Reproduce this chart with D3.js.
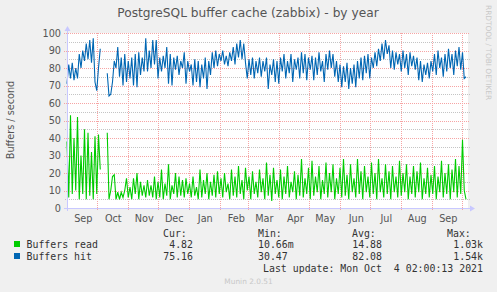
<!DOCTYPE html>
<html>
<head>
<meta charset="utf-8">
<script src="https://cdn.jsdelivr.net/npm/d3@7"></script>
<style>
  html, body { margin: 0; padding: 0; background: #f0f0f0; }
  svg { display: block; }
  text { font-family: "DejaVu Sans", sans-serif; }
  .mono { font-family: "DejaVu Sans Mono", monospace; }
</style>
</head>
<body>
<svg id="chart" width="497" height="292"></svg>
<script>
// series are sampled every 1.75 days starting at startDate (null = no data)
var startDate = Date.UTC(2020, 7, 31, 17);
var stepDays = 1.75;

var buffersRead = [
  38, 6, 53, 8, 40, 10, 52, 5, 30, 8, 45, 5, 43, 7, 32, 5, 41, 8, 42, 22,
  null, null, null, 43, 5, 10, 18, 19, 5, 9, 5, 9, 6, 10, 17, 6,
  12, 5, 17, 8, 20, 5, 15, 7, 13, 6, 16, 7, 13, 6, 18, 5, 15,
  6, 22, 5, 14, 7, 25, 5, 13, 8, 20, 6, 18, 7, 16, 6, 17, 8,
  14, 6, 18, 7, 12, 5, 22, 6, 16, 8, 20, 5, 15, 7, 19, 6, 21, 8,
  17, 6, 20, 9, 14, 5, 22, 7, 18, 6, 24, 8, 16, 5, 23, 10,
  18, 5, 21, 8, 15, 6, 22, 9, 17, 5, 26, 7, 19, 4, 23, 8, 16, 6,
  22, 5, 18, 8, 24, 6, 15, 9, 21, 5, 19, 7, 28, 6, 17, 8, 23,
  5, 27, 7, 18, 9, 24, 5, 16, 8, 26, 6, 20, 9, 25, 5, 17, 8, 23,
  6, 28, 7, 19, 5, 25, 9, 17, 6, 28, 8, 21, 5, 24, 9, 18, 6,
  26, 8, 20, 5, 28, 9, 17, 6, 25, 8, 21, 5, 24, 9, 18, 6, 27,
  7, 20, 9, 25, 5, 18, 8, 24, 6, 21, 9, 26, 5, 17, 8, 23, 6, 19,
  8, 24, 5, 18, 9, 27, 6, 20, 8, 25, 5, 22, 9, 28, 6, 24, 8, 39, 10, 5
];

var buffersHit = [
  71, 82, 74, 83, 73, 80, 74, 88, 80, 90, 84, 94, 85, 96, 83, 97, 72, 67, 80, 91,
  null, null, null, 77, 64, 65, 72, 84, 80, 92, 75, 86, 70, 88, 72, 84,
  74, 86, 70, 88, 69, 89, 76, 86, 78, 97, 78, 90, 80, 96, 82, 96, 74,
  86, 78, 87, 80, 92, 71, 88, 70, 86, 79, 87, 76, 84, 80, 89, 71, 84,
  78, 82, 70, 85, 72, 84, 69, 82, 74, 86, 68, 84, 76, 89, 80, 90, 81, 88,
  84, 90, 82, 87, 81, 89, 84, 92, 82, 94, 86, 96, 85, 94, 83, 74,
  85, 76, 86, 74, 84, 77, 86, 75, 84, 78, 86, 68, 82, 76, 85, 72, 84, 71,
  86, 78, 88, 74, 84, 77, 88, 72, 85, 79, 86, 74, 89, 77, 88, 73, 86,
  79, 87, 73, 86, 76, 89, 78, 84, 72, 88, 79, 90, 80, 88, 75, 84, 72, 82,
  69, 81, 72, 83, 68, 80, 71, 82, 69, 84, 74, 86, 73, 87, 77, 88, 74,
  86, 80, 89, 81, 91, 84, 94, 85, 96, 88, 93, 80, 90, 79, 89, 82, 88,
  78, 90, 80, 88, 76, 89, 81, 87, 79, 86, 73, 84, 72, 82, 76, 83, 74, 84,
  78, 88, 76, 90, 80, 86, 75, 88, 78, 91, 80, 88, 76, 90, 81, 92, 79, 89, 74, 75
];

var yTicks = [0, 10, 20, 30, 40, 50, 60, 70, 80, 90, 100];
var yMinor = [5, 15, 25, 35, 45, 55, 65, 75, 85, 95];

var legendRows = [
  {name: "Buffers read", color: "#00cc00", cur: "4.82", min: "10.66m", avg: "14.88", max: "1.03k"},
  {name: "Buffers hit", color: "#0066b3", cur: "75.16", min: "30.47", avg: "82.08", max: "1.54k"}
];

var svg = d3.select("#chart");
var plotL = 67, plotR = 468, plotT = 33, plotB = 208;

var x = d3.scaleUtc()
    .domain([new Date(startDate), new Date(startDate + 401 * 864e5)])
    .range([plotL, plotR]);
var y = d3.scaleLinear().domain([0, 100]).range([plotB, plotT]);

function dateAt(i) { return new Date(startDate + i * stepDays * 864e5); }

// plot background
svg.append("rect")
    .attr("x", plotL).attr("y", plotT)
    .attr("width", plotR - plotL).attr("height", plotB - plotT)
    .attr("fill", "#fff");

// minor horizontal grid
svg.append("g").selectAll("line")
    .data(yMinor).enter()
    .append("line")
    .attr("x1", plotL - 2).attr("x2", plotR + 2)
    .attr("y1", function (d) { return Math.round(y(d)) + 0.5; })
    .attr("y2", function (d) { return Math.round(y(d)) + 0.5; })
    .attr("stroke", "#c4c4c4")
    .attr("stroke-dasharray", "1,1");

// major horizontal grid
svg.append("g").selectAll("line")
    .data(yTicks.filter(function (d) { return d > 0; })).enter()
    .append("line")
    .attr("x1", plotL - 3).attr("x2", plotR + 2)
    .attr("y1", function (d) { return Math.round(y(d)) + 0.5; })
    .attr("y2", function (d) { return Math.round(y(d)) + 0.5; })
    .attr("stroke", "#f6a4a4")
    .attr("stroke-dasharray", "1,1");

// month grid
var months = d3.utcMonth.range(new Date(Date.UTC(2020, 9, 1)), x.domain()[1]);
svg.append("g").selectAll("line")
    .data(months).enter()
    .append("line")
    .attr("x1", function (d) { return Math.round(x(d)) + 0.5; })
    .attr("x2", function (d) { return Math.round(x(d)) + 0.5; })
    .attr("y1", plotT).attr("y2", plotB + 3)
    .attr("stroke", "#f6a4a4")
    .attr("stroke-dasharray", "1,1");

// y tick labels
svg.append("g").selectAll("text")
    .data(yTicks).enter()
    .append("text")
    .attr("x", 61)
    .attr("y", function (d) { return y(d) + 3.5; })
    .attr("text-anchor", "end")
    .attr("font-size", "9.7px")
    .attr("fill", "#555")
    .text(function (d) { return d; });

// x labels, centred in the month
var labelMonths = d3.utcMonth.range(new Date(Date.UTC(2020, 8, 1)), new Date(Date.UTC(2021, 9, 1)));
svg.append("g").selectAll("text")
    .data(labelMonths).enter()
    .append("text")
    .attr("x", function (d) { return x(d3.utcDay.offset(d, 16)); })
    .attr("y", 221.5)
    .attr("text-anchor", "middle")
    .attr("font-size", "9.7px")
    .attr("fill", "#555")
    .text(d3.utcFormat("%b"));

// data lines
function lineFor(vals) {
    return d3.line()
        .defined(function (d) { return d != null; })
        .x(function (d, i) { return x(dateAt(i)); })
        .y(function (d) { return y(d); })(vals);
}

svg.append("path")
    .attr("d", lineFor(buffersRead))
    .attr("fill", "none")
    .attr("stroke", "#00cc00")
    .attr("stroke-width", 1.1);

svg.append("path")
    .attr("d", lineFor(buffersHit))
    .attr("fill", "none")
    .attr("stroke", "#0066b3")
    .attr("stroke-width", 1.1);

// axes
svg.append("line")
    .attr("x1", plotL + 0.5).attr("x2", plotL + 0.5)
    .attr("y1", plotB + 3).attr("y2", plotT - 3)
    .attr("stroke", "#c8c8ff");
svg.append("line")
    .attr("x1", plotL - 3).attr("x2", plotR + 3)
    .attr("y1", plotB + 0.5).attr("y2", plotB + 0.5)
    .attr("stroke", "#c8c8ff");
svg.append("path")
    .attr("d", "M" + (plotL - 2.5) + "," + (plotT - 2) + "L" + (plotL + 3.5) + "," + (plotT - 2) + "L" + (plotL + 0.5) + "," + (plotT - 7) + "Z")
    .attr("fill", "#c8c8ff");
svg.append("path")
    .attr("d", "M" + (plotR + 2) + "," + (plotB - 2.5) + "L" + (plotR + 2) + "," + (plotB + 3.5) + "L" + (plotR + 7) + "," + (plotB + 0.5) + "Z")
    .attr("fill", "#c8c8ff");

// title and side texts
svg.append("text")
    .attr("x", 248).attr("y", 17)
    .attr("text-anchor", "middle")
    .attr("font-size", "12.2px")
    .attr("fill", "#555")
    .text("PostgreSQL buffer cache (zabbix) - by year");

svg.append("text")
    .attr("transform", "translate(14,120) rotate(-90)")
    .attr("text-anchor", "middle")
    .attr("font-size", "9.7px")
    .attr("fill", "#555")
    .text("Buffers / second");

svg.append("text")
    .attr("transform", "translate(486,5) rotate(90)")
    .attr("font-size", "7.4px")
    .attr("fill", "#c8c8c8")
    .text("RRDTOOL / TOBI OETIKER");

// legend
var cols = [{key: "cur", x: 193, head: "Cur:", hx: 163},
            {key: "min", x: 258, head: "Min:", hx: 258, start: true},
            {key: "avg", x: 382, head: "Avg:", hx: 352},
            {key: "max", x: 483, head: "Max:", hx: 447}];

var legend = svg.append("g").attr("class", "mono").attr("font-size", "9.9px").attr("fill", "#333");
cols.forEach(function (c) {
    legend.append("text").attr("class", "mono").attr("x", c.hx).attr("y", 236.5).text(c.head);
});

legendRows.forEach(function (r, k) {
    var yy = 247.5 + k * 12;
    legend.append("rect")
        .attr("x", 14).attr("y", yy - 6.5)
        .attr("width", 6).attr("height", 6)
        .attr("fill", r.color);
    legend.append("text").attr("class", "mono").attr("x", 26.5).attr("y", yy).text(r.name);
    cols.forEach(function (c) {
        legend.append("text").attr("class", "mono")
            .attr("x", c.x).attr("y", yy)
            .attr("text-anchor", c.start ? "start" : "end")
            .text(r[c.key]);
    });
});

legend.append("text").attr("class", "mono")
    .attr("x", 483).attr("y", 271.5)
    .attr("text-anchor", "end")
    .style("white-space", "pre")
    .text("Last update: Mon Oct  4 02:00:13 2021");

svg.append("text")
    .attr("x", 248.5).attr("y", 284)
    .attr("text-anchor", "middle")
    .attr("font-size", "7.4px")
    .attr("fill", "#c8c8c8")
    .text("Munin 2.0.51");
</script>
</body>
</html>
